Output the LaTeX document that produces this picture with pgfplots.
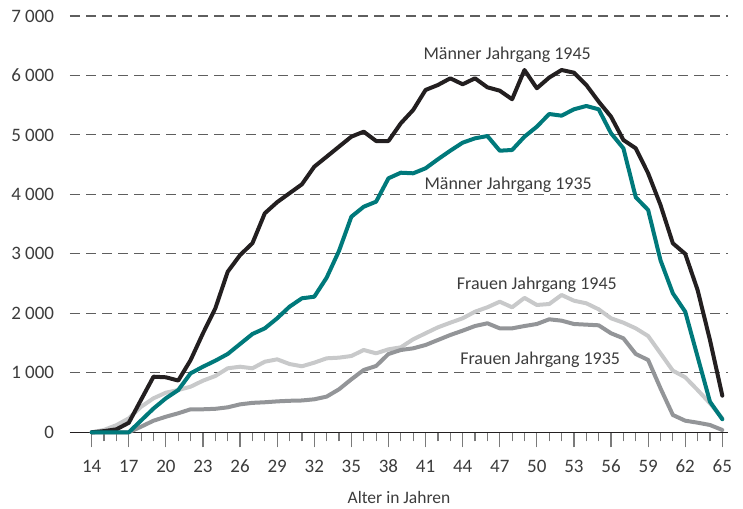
\documentclass[border=0pt]{standalone}
\usepackage{pgfplots}
\pgfplotsset{compat=1.18}
\usepackage{fontspec}
\setmainfont{Carlito}
\definecolor{cblack}{HTML}{231F20}
\definecolor{cteal}{HTML}{00797B}
\definecolor{clight}{HTML}{C8C9CA}
\definecolor{cdark}{HTML}{939598}
\definecolor{ctext}{HTML}{3C3C3C}
\definecolor{cgrid}{HTML}{5E5E5E}
\definecolor{ctick}{HTML}{7A7A7A}

\pgfplotstableread{
age m45 m35 f45 f35
14 0 0 0 0
15 20 0 40 0
16 50 0 120 0
17 160 0 235 0
18 550 200 430 95
19 935 400 572 195
20 925 572 666 262
21 870 711 711 320
22 1215 992 767 387
23 1665 1103 868 387
24 2085 1204 947 395
25 2700 1317 1076 420
26 2980 1485 1103 470
27 3180 1653 1076 495
28 3683 1748 1187 505
29 3870 1917 1227 520
30 4020 2112 1148 530
31 4170 2253 1110 535
32 4466 2280 1171 555
33 4634 2600 1244 600
34 4803 3050 1255 723
35 4971 3625 1283 891
36 5055 3793 1384 1048
37 4898 3878 1328 1115
38 4898 4271 1395 1317
39 5196 4365 1429 1384
40 5420 4355 1564 1412
41 5756 4439 1665 1468
42 5840 4591 1765 1552
43 5952 4735 1843 1636
44 5852 4870 1917 1709
45 5952 4943 2028 1787
46 5801 4982 2102 1833
47 5744 4735 2196 1748
48 5600 4747 2102 1748
49 6092 4971 2260 1787
50 5785 5139 2141 1821
51 5965 5352 2157 1900
52 6092 5324 2309 1877
53 6047 5431 2213 1821
54 5840 5487 2169 1810
55 5560 5431 2068 1799
56 5307 5028 1917 1665
57 4915 4775 1843 1580
58 4775 3952 1748 1317
59 4355 3738 1619 1216
60 3822 2893 1328 740
61 3178 2337 1036 291
62 3000 2028 925 195
63 2393 1271 711 162
64 1552 515 488 123
65 616 219 235 39
}\datatable

\begin{document}
\begin{tikzpicture}
\path[use as bounding box] (-70pt,-75.7pt) rectangle (673pt,432.3pt);
\begin{axis}[
  at={(0,0)}, anchor=south west,
  scale only axis, width=658pt, height=416.3pt,
  xmin=12.245, xmax=65.46, ymin=0, ymax=7000,
  axis x line*=bottom,
  axis y line*=left,
  y axis line style={draw=none},
  x axis line style={draw=cblack, line width=1pt},
  xtick={14,17,...,65},
  minor x tick num=2,
  ytick={0,1000,...,7000},
  yticklabels={0,1 000,2 000,3 000,4 000,5 000,6 000,7 000},
  tick align=outside,
  major tick length=15pt,
  minor tick length=9pt,
  xtick style={draw=ctick, line width=1.2pt},
  ytick style={draw=none},
  ymajorgrids,
  major grid style={draw=cgrid, line width=1.1pt, dash pattern=on 10pt off 6pt},
  /pgf/number format/assume math mode=true,
  ticklabel style={font=\fontsize{19}{22}\selectfont, text=ctext},
  yticklabel style={anchor=east, inner sep=0pt, xshift=-0.7pt},
  xticklabel style={anchor=base, inner sep=0pt, yshift=-25.4pt},
  xlabel={Alter in Jahren},
  xlabel style={font=\fontsize{17.5}{20}\selectfont, text=ctext, at={(axis description cs:0.5,0)}, anchor=base, inner sep=0pt, yshift=-71pt},
  every axis plot/.append style={line width=4pt, line cap=round, line join=round, no markers},
  clip=false,
]
\addplot[clight] table[x=age, y=f45] {\datatable};
\addplot[cdark] table[x=age, y=f35] {\datatable};
\addplot[cblack] table[x=age, y=m45] {\datatable};
\addplot[cteal] table[x=age, y=m35] {\datatable};
\begin{scope}[every node/.style={font=\fontsize{18}{21}\selectfont, text=ctext, anchor=base west, inner sep=0pt}]
\node at (axis cs:40.82,6273) {Männer Jahrgang 1945};
\node at (axis cs:40.9,4090) {Männer Jahrgang 1935};
\node at (axis cs:43.52,2405) {Frauen Jahrgang 1945};
\node at (axis cs:43.79,1143) {Frauen Jahrgang 1935};
\end{scope}
\end{axis}
\end{tikzpicture}
\end{document}
